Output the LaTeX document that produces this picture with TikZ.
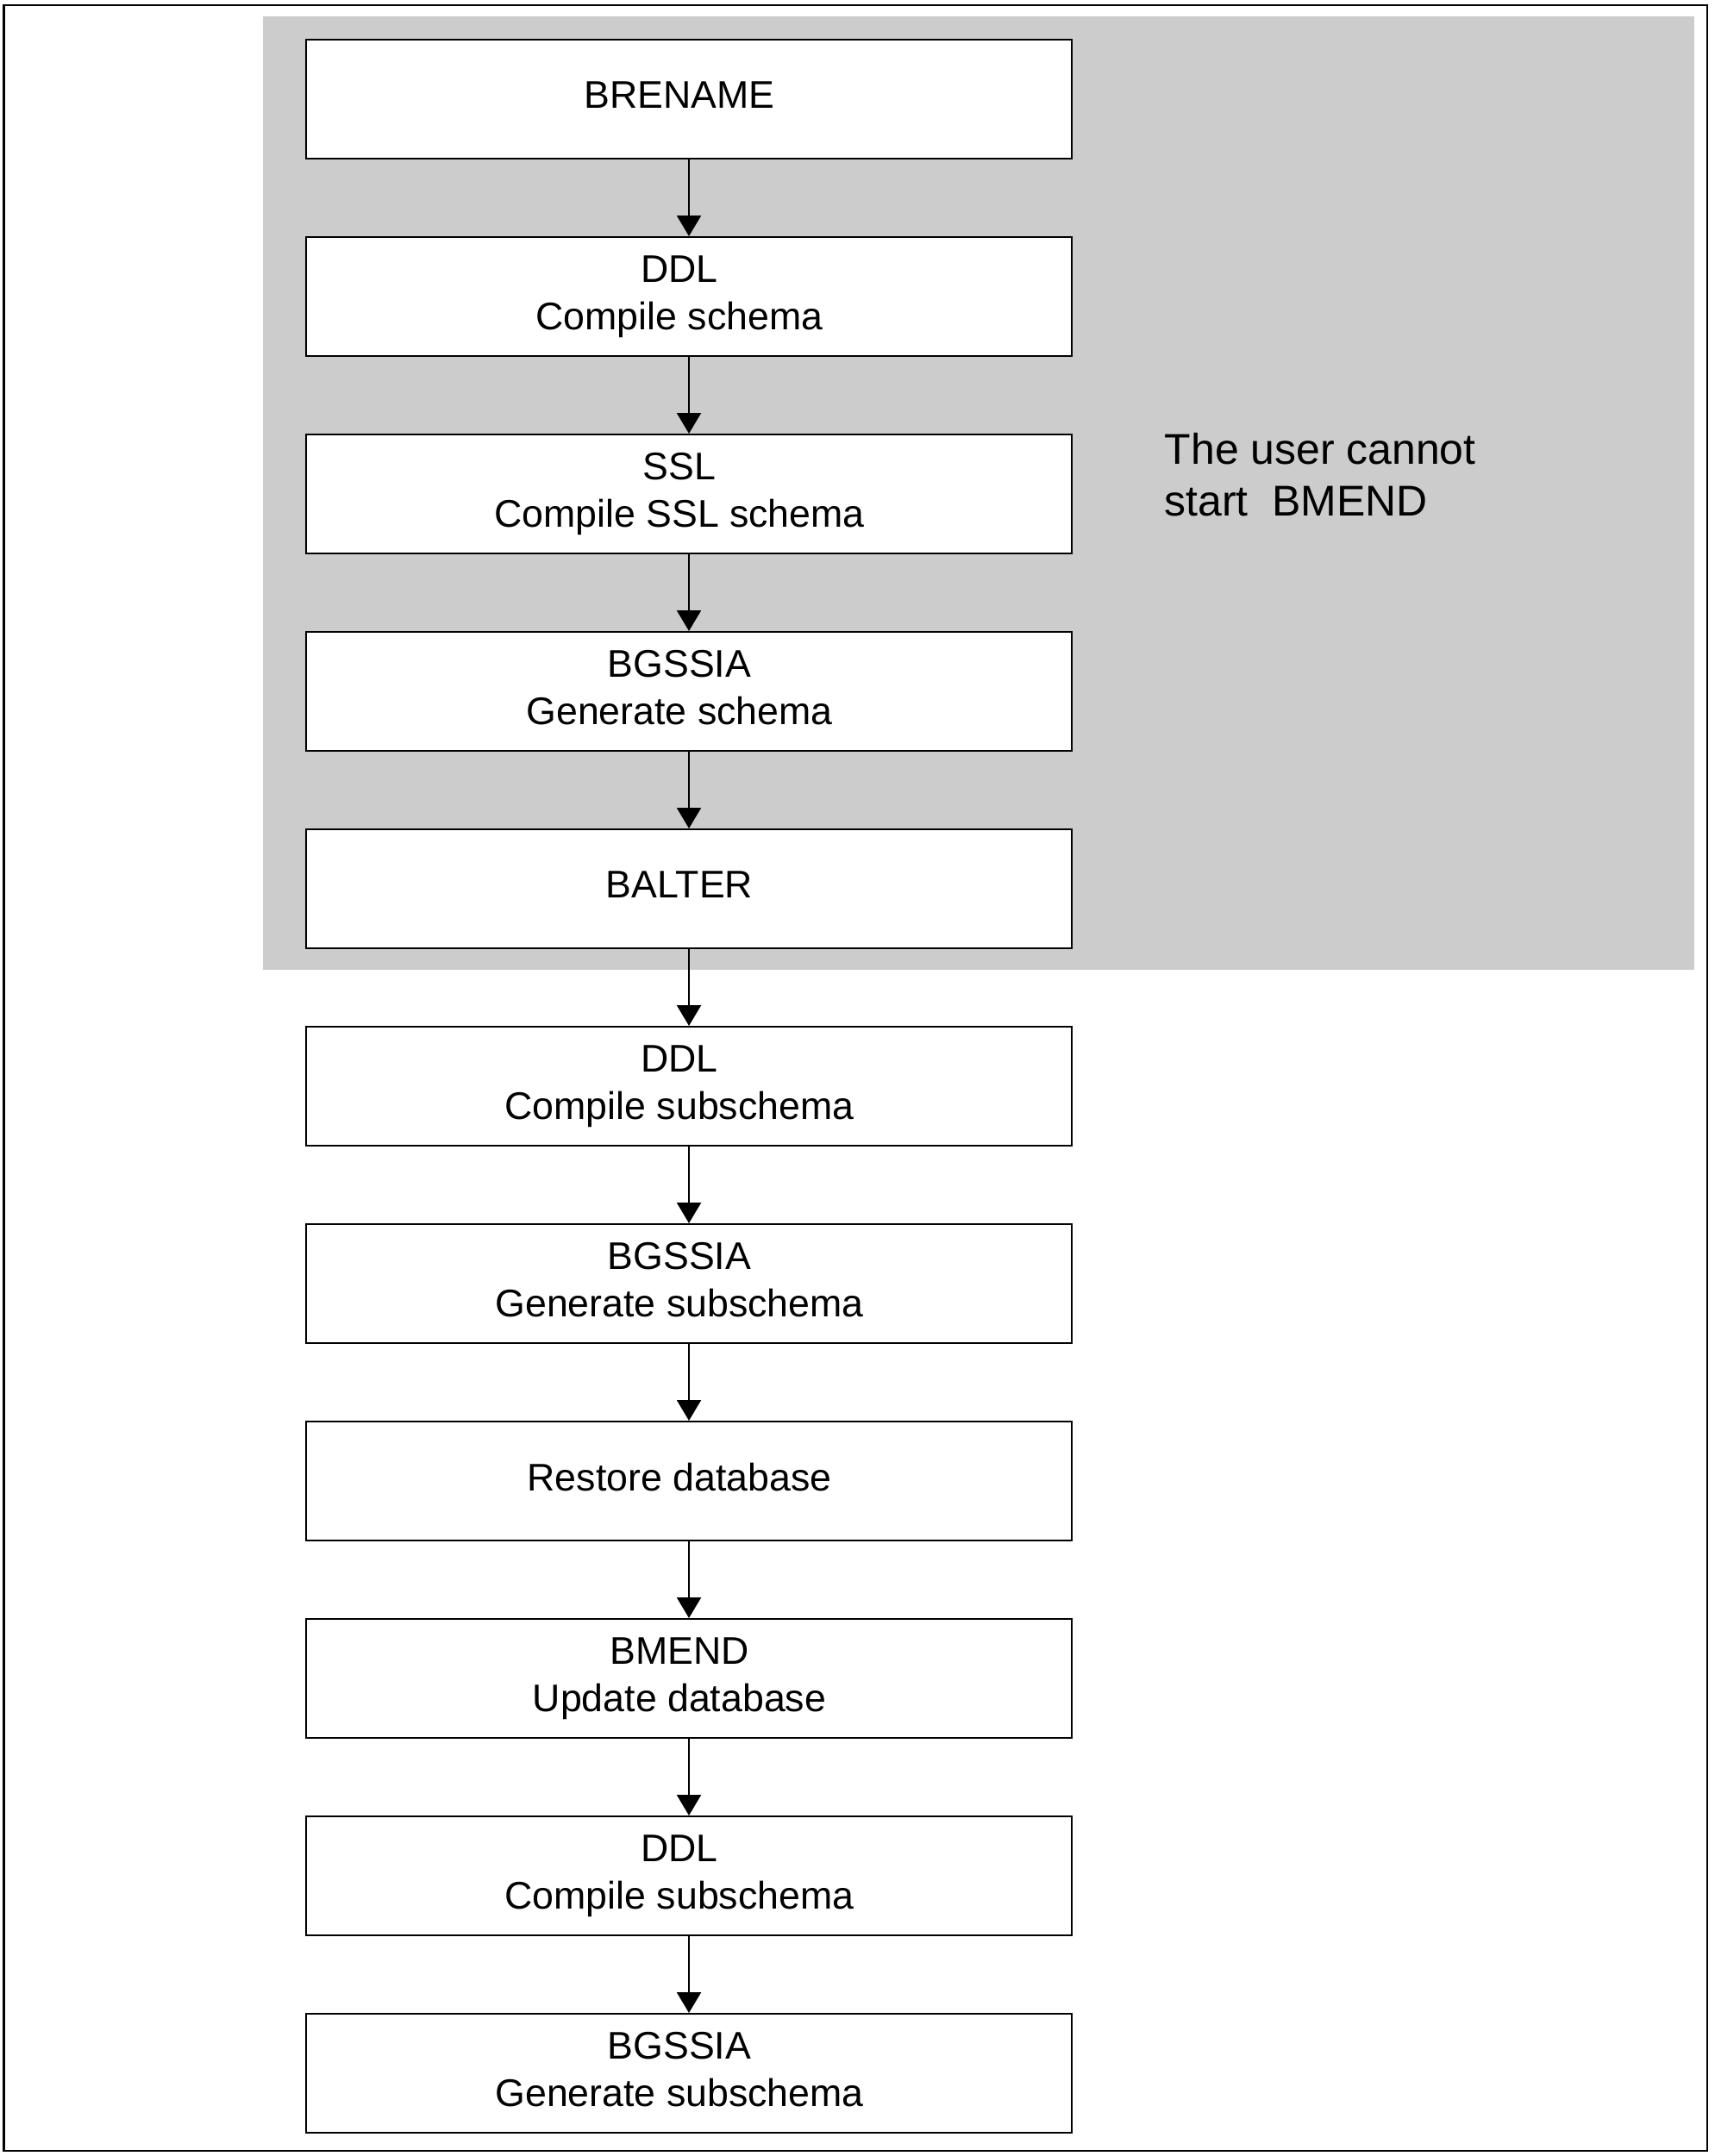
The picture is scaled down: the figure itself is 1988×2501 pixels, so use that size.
\documentclass[tikz,border=0pt]{standalone}
\usepackage{fontspec}
\setmainfont{Liberation Sans}
\usepackage{xcolor}
\usetikzlibrary{arrows.meta}
\definecolor{shadegray}{HTML}{CCCCCC}
\newcommand{\boxfont}{\fontsize{12.7}{15.65}\selectfont}
\newcommand{\notefont}{\fontsize{14.2}{17.07}\selectfont}
\tikzset{
  stage/.style={draw, line width=0.57pt, fill=white, minimum width=8.87cm,
    minimum height=1.38cm, inner sep=0pt, label={[stagetext]center:#1}},
  stagetext/.style={font=\boxfont, align=center, text depth=2.7pt,
    inner sep=0pt, xshift=-0.11cm},
  flow/.style={line width=0.43pt, -{Triangle[length=6.8pt,width=8pt]}},
}
\begin{document}
\begin{tikzpicture}[x=0.01cm, y=-0.01cm]
  \useasboundingbox (0,0) rectangle (1988,2501);
  % frame and shaded area
  \draw[line width=0.71pt] (4.7,6) rectangle (1980,2495);
  \fill[shadegray] (305,19) rectangle (1965,1125);
  % steps
  \node[stage={BRENAME}] (brename) at (799,115) {};
  \node[stage={DDL\\Compile schema}] (ddlschema) at (799,344) {};
  \node[stage={SSL\\Compile SSL schema}] (sslschema) at (799,573) {};
  \node[stage={BGSSIA\\Generate schema}] (genschema) at (799,802) {};
  \node[stage={BALTER}] (balter) at (799,1031) {};
  \node[stage={DDL\\Compile subschema}] (ddlsub) at (799,1260) {};
  \node[stage={BGSSIA\\Generate subschema}] (gensub) at (799,1489) {};
  \node[stage={Restore database}] (restore) at (799,1718) {};
  \node[stage={BMEND\\Update database}] (bmend) at (799,1947) {};
  \node[stage={DDL\\Compile subschema}] (ddlsubb) at (799,2176) {};
  \node[stage={BGSSIA\\Generate subschema}] (gensubb) at (799,2405) {};
  % note
  \node[font=\notefont, align=left, anchor=west, inner sep=0pt] (note)
    at (1350,551) {The user cannot\\start\ \ BMEND};
  % arrows
  \foreach \a/\b in {brename/ddlschema, ddlschema/sslschema, sslschema/genschema,
    genschema/balter, balter/ddlsub, ddlsub/gensub, gensub/restore,
    restore/bmend, bmend/ddlsubb, ddlsubb/gensubb}
    \draw[flow] (\a) -- (\b);
\end{tikzpicture}
\end{document}
